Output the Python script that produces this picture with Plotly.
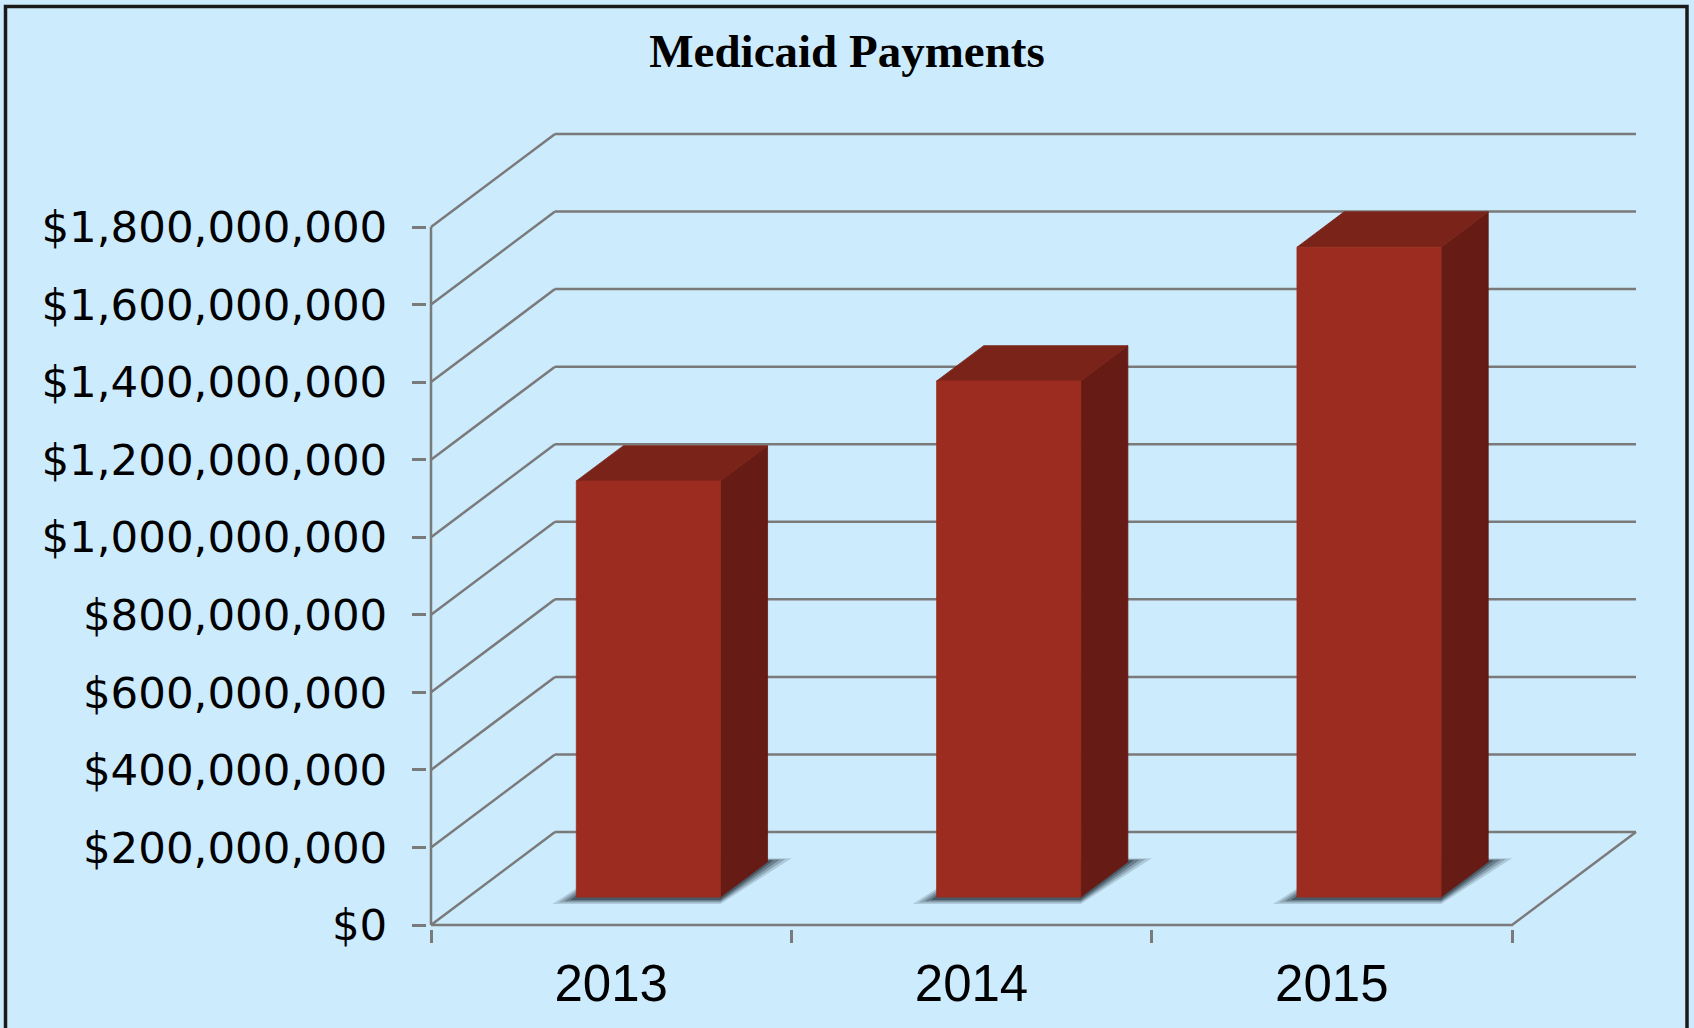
import plotly.graph_objects as go

# ---------------- data ----------------
YEARS = ["2013", "2014", "2015"]
PAYMENTS = [1.073e9, 1.331e9, 1.676e9]
Y_TICKS = [0, 2e8, 4e8, 6e8, 8e8, 1.0e9, 1.2e9, 1.4e9, 1.6e9, 1.8e9]
Y_TICK_LABELS = ["$" + format(int(v), ",") for v in Y_TICKS]
TITLE = "Medicaid Payments"

# ---------------- geometry (pixels of the target frame) ----------------
W, H = 1694, 1028
X0_PX, XN_PX = 431, 1512          # front axis left / right
Y0_PX, YTOP_PX = 925, 227         # value 0 / top tick on the front plane
DEPTH_DX_PX, DEPTH_DY_PX = 124, 93
PAD = 4

N = len(YEARS)
PXC = (XN_PX - X0_PX) / N                 # px per category
PXV = (Y0_PX - YTOP_PX) / Y_TICKS[-1]     # px per value unit
DX = DEPTH_DX_PX / PXC                    # depth offset in category units
DY = DEPTH_DY_PX / PXV                    # depth offset in value units

x_lo = -PAD / PXC
x_hi = N + DX + PAD / PXC
y_lo = -PAD / PXV
y_top_line = Y_TICKS[-1] + DY
y_hi = y_top_line + PAD / PXV

m_l = X0_PX - PAD
m_r = W - (X0_PX + x_hi * PXC)
m_b = H - (Y0_PX + PAD)
m_t = Y0_PX - y_hi * PXV

BAR_W = 0.40
D0, D1 = 0.30, 0.68

BG = "#CCEBFD"
GRID = "#7A7A7A"
FRONT = "#9B2C1F"
TOP = "#7A2419"
SIDE = "#661B14"

fig = go.Figure()

# ---------------- walls & floor grid ----------------
gx, gy = [], []
for v in Y_TICKS:
    gx += [DX, N + DX, None]
    gy += [v + DY, v + DY, None]
    gx += [0, DX, None]
    gy += [v, v + DY, None]
gx += [0, 0, None]
gy += [0, Y_TICKS[-1], None]
gx += [0, N, N + DX, None]
gy += [0, 0, DY, None]

fig.add_trace(go.Scatter(x=gx, y=gy, mode="lines",
                         line=dict(color=GRID, width=2.5),
                         hoverinfo="skip", showlegend=False))

# ---------------- shadows ----------------
for e_px, alpha in [(24, 0.16), (18, 0.22), (12, 0.30), (6, 0.40)]:
    for i, v in enumerate(PAYMENTS):
        xl = i + 0.5 - BAR_W / 2
        xr = i + 0.5 + BAR_W / 2
        ex = e_px / PXC
        ey = (e_px * 0.22 + 1.5) / PXV
        sx = [xl + D0 * DX - ex, xr + D0 * DX, xr + D1 * DX + ex, xl + D1 * DX, xl + D0 * DX - ex]
        sy = [D0 * DY - ey, D0 * DY - ey, D1 * DY + ey * 0.5, D1 * DY + ey * 0.5, D0 * DY - ey]
        fig.add_trace(go.Scatter(x=sx, y=sy, mode="lines", fill="toself",
                                 fillcolor=f"rgba(25,35,45,{alpha})",
                                 line=dict(width=0, color="rgba(0,0,0,0)"),
                                 hoverinfo="skip", showlegend=False))

# ---------------- 3D bars ----------------
for i, v in enumerate(PAYMENTS):
    xl = i + 0.5 - BAR_W / 2
    xr = i + 0.5 + BAR_W / 2
    fx0, fx1 = xl + D0 * DX, xr + D0 * DX
    bx0, bx1 = xl + D1 * DX, xr + D1 * DX
    fy0, fy1 = D0 * DY, v + D0 * DY
    by0, by1 = D1 * DY, v + D1 * DY
    faces = [
        ([fx1, bx1, bx1, fx1, fx1], [fy0, by0, by1, fy1, fy0], SIDE),
        ([fx0, fx1, bx1, bx0, fx0], [fy1, fy1, by1, by1, fy1], TOP),
        ([fx0, fx1, fx1, fx0, fx0], [fy0, fy0, fy1, fy1, fy0], FRONT),
    ]
    for fxs, fys, col in faces:
        fig.add_trace(go.Scatter(x=fxs, y=fys, mode="lines", fill="toself",
                                 fillcolor=col, line=dict(width=0.8, color=col),
                                 hovertemplate=f"{YEARS[i]}: ${v:,.0f}<extra></extra>",
                                 showlegend=False))

fig.update_layout(
    width=W, height=H,
    margin=dict(l=m_l, r=m_r, t=m_t, b=m_b, pad=0),
    paper_bgcolor=BG, plot_bgcolor=BG,
    showlegend=False,
    title=dict(text=f"<b>{TITLE}</b>", x=0.5, xanchor="center", xref="container",
               y=1 - 51 / H, yanchor="middle", yref="container",
               font=dict(family="Liberation Serif", size=47, color="#000000")),
    xaxis=dict(range=[x_lo, x_hi], showgrid=False, zeroline=False, showline=False,
               tickvals=[i + 0.5 for i in range(N)], ticktext=YEARS, ticks="",
               tickfont=dict(family="Liberation Sans", size=51, color="#000000"),
               ticklabelstandoff=20,
               minor=dict(tickvals=list(range(N + 1)), ticks="outside", ticklen=13,
                          tickwidth=2.5, tickcolor=GRID, showgrid=False),
               fixedrange=True),
    yaxis=dict(range=[y_lo, y_hi], showgrid=False, zeroline=False, showline=False,
               tickvals=Y_TICKS, ticktext=Y_TICK_LABELS, ticks="outside", ticklen=14,
               tickwidth=2.5, tickcolor=GRID,
               tickfont=dict(family="DejaVu Sans", size=43.5, color="#000000"),
               ticklabelstandoff=16,
               fixedrange=True),
    shapes=[dict(type="rect", xref="paper", yref="paper",
                 x0=(5.5 - m_l) / (W - m_l - m_r), x1=(1687 - m_l) / (W - m_l - m_r),
                 y0=(H - 1040 - m_b) / (H - m_t - m_b), y1=(H - 6.5 - m_b) / (H - m_t - m_b),
                 line=dict(color="#1A1A1A", width=3.5), fillcolor="rgba(0,0,0,0)", layer="above")],
)

fig.write_html("out.html",
               config={"displayModeBar": False},
               post_script="document.body.style.margin='0';document.body.style.overflow='hidden';")
